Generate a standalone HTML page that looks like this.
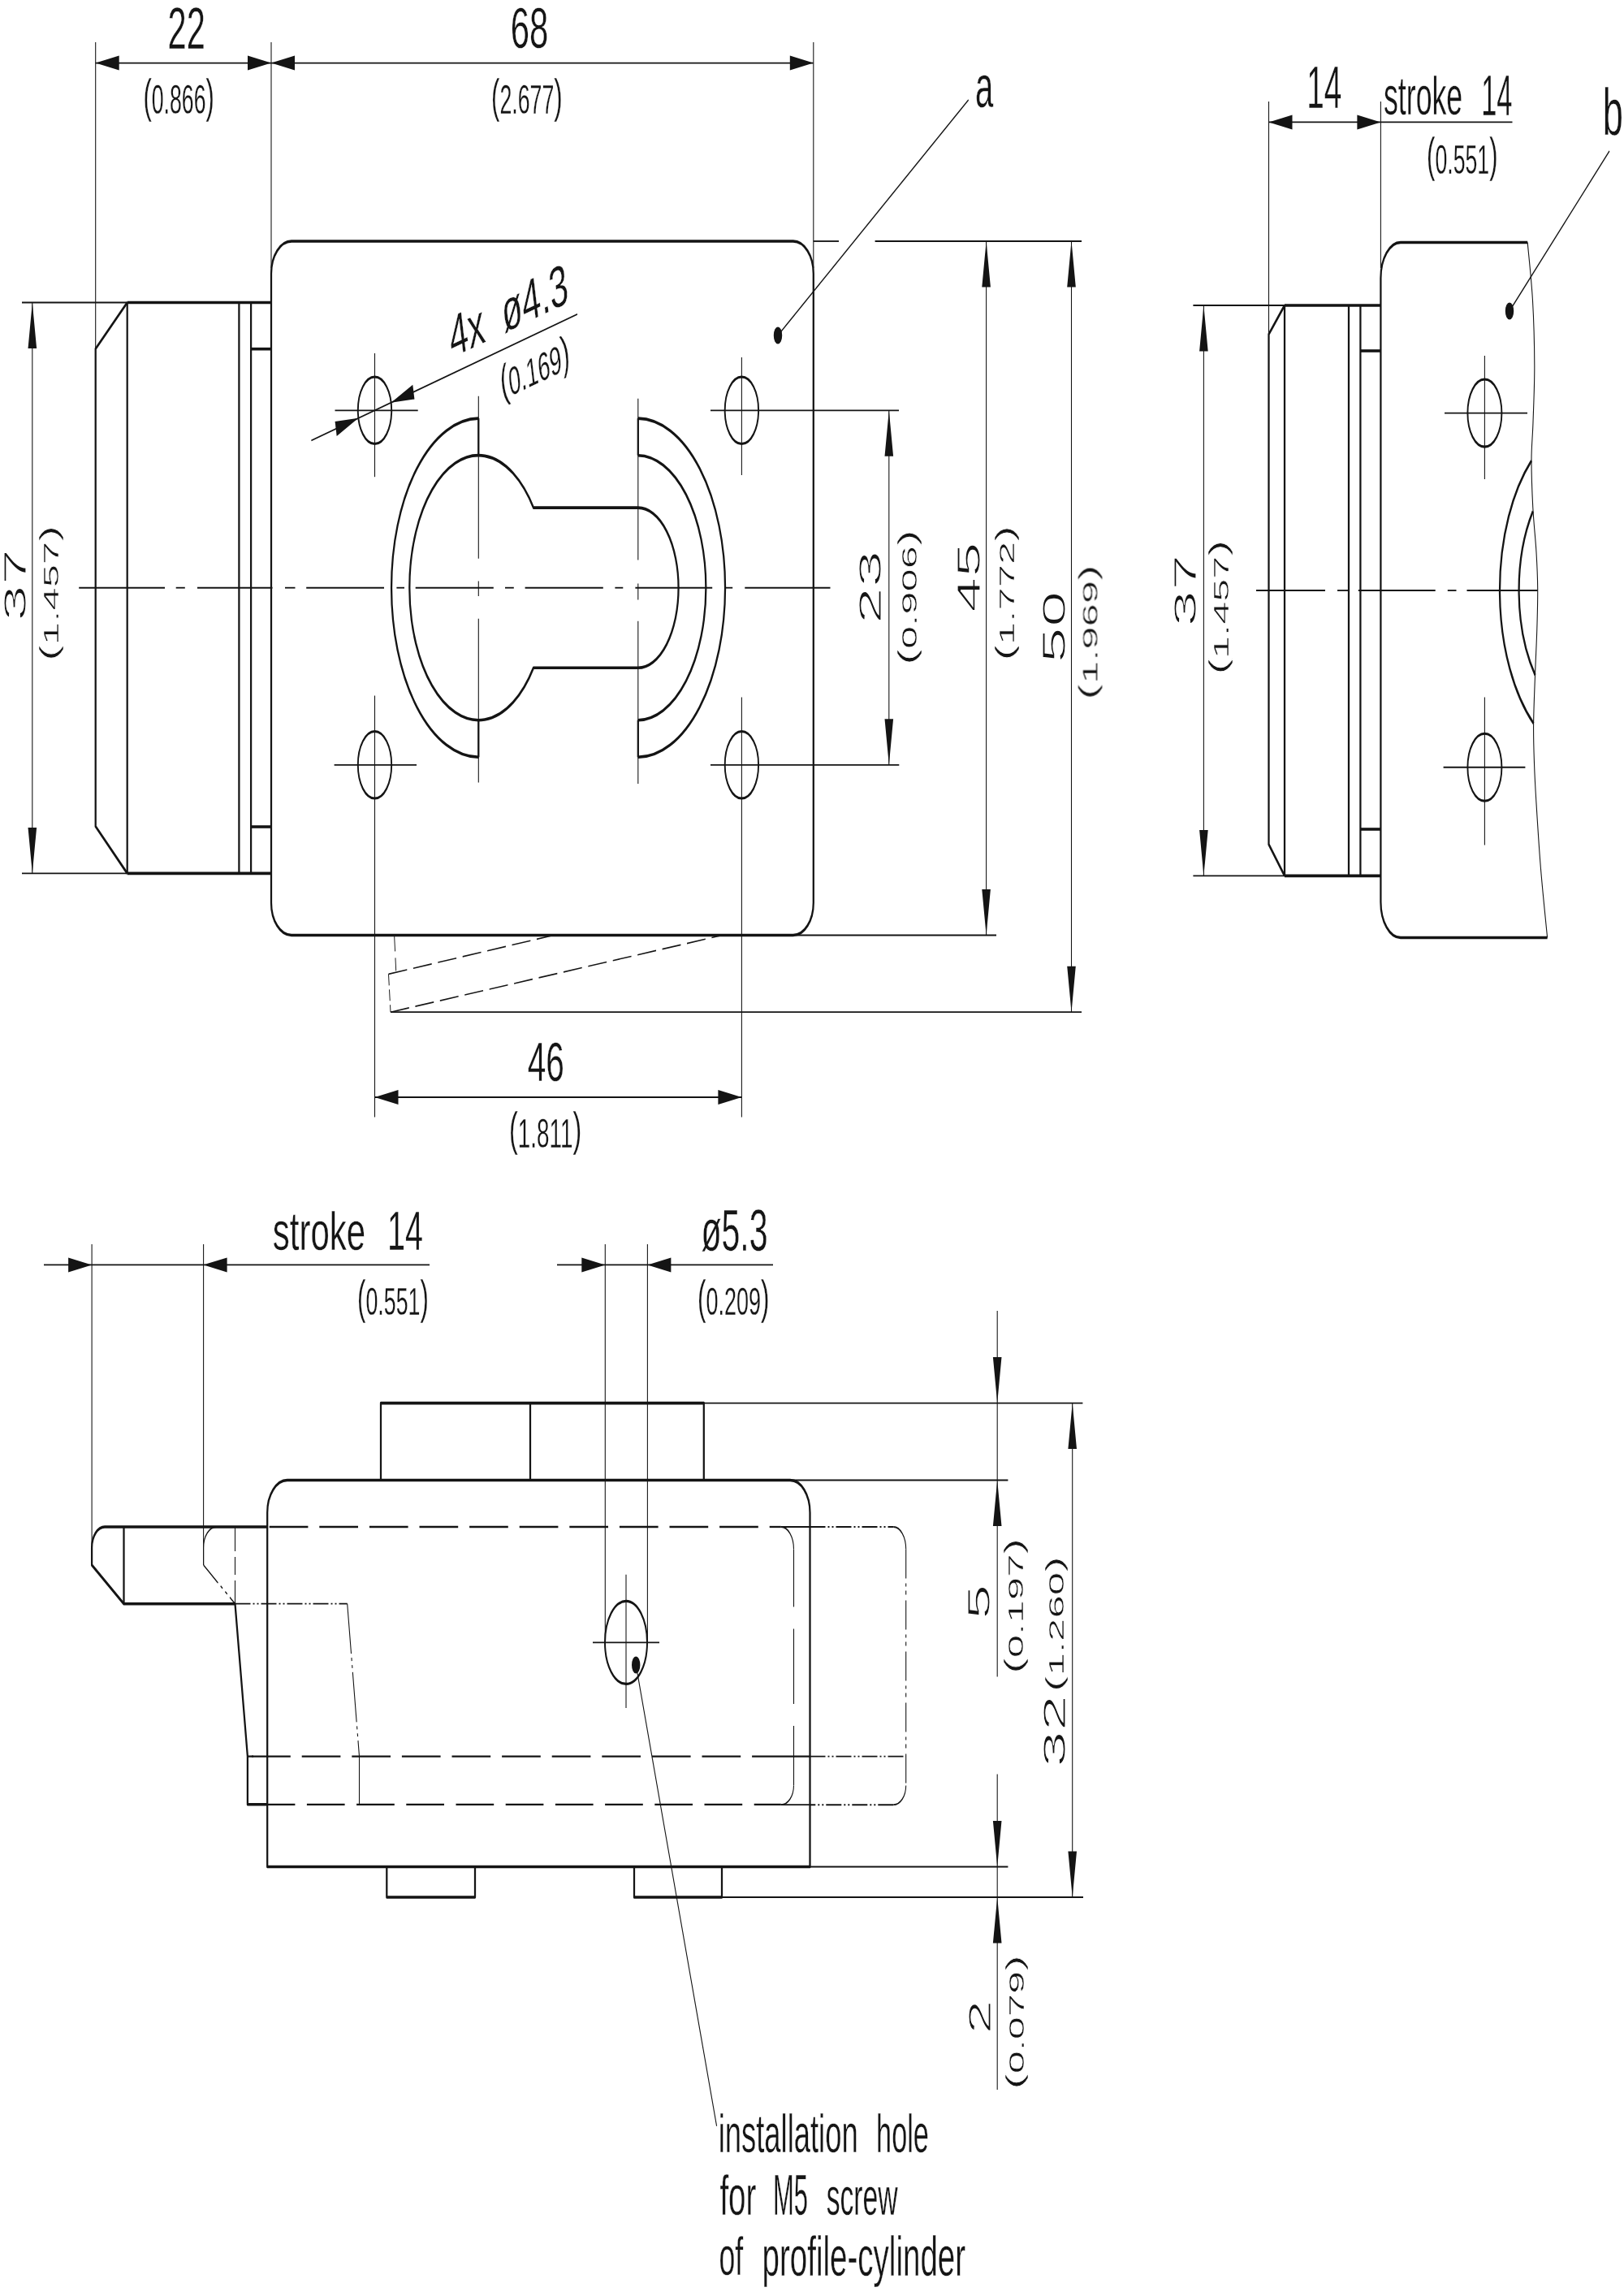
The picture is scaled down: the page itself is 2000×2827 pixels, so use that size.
<!DOCTYPE html>
<html lang="en"><head><meta charset="utf-8"><title>Dimension drawing</title>
<style>html,body{margin:0;padding:0;background:#fff}svg{display:block}text{font-family:"Liberation Sans", sans-serif;font-size:100px;fill:#141414}</style></head>
<body><svg width="2000" height="2827" viewBox="0 0 2000 2827">
<rect width="2000" height="2827" fill="#fff"/>
<g transform="scale(1 1.7)" fill="none" stroke="#141414" stroke-width="1.08">
<path d="M485.6 677.35L487.7 703.18" stroke-width="0.95" stroke-dasharray="11.76 4.71"/>
<path d="M478.5 705.53L681.7 677.35" stroke-width="0.95" stroke-dasharray="23 7.7"/>
<path d="M478.5 705.53L481 733.06" stroke-width="0.95" stroke-dasharray="8.24 2.94"/>
<path d="M481 733.06L889.5 677.35" stroke-width="0.95" stroke-dasharray="23 7.7"/>
<path d="M97.2 425.71L203 425.71"/>
<path d="M216.7 425.71L227.8 425.71"/>
<path d="M243 425.71L335.5 425.71"/>
<path d="M351 425.71L363.5 425.71"/>
<path d="M377.2 425.71L473 425.71"/>
<path d="M488.4 425.71L498 425.71"/>
<path d="M511.7 425.71L607.8 425.71"/>
<path d="M622 425.71L632.8 425.71"/>
<path d="M646.6 425.71L742.8 425.71"/>
<path d="M757.4 425.71L767.3 425.71"/>
<path d="M782.4 425.71L877.2 425.71"/>
<path d="M893.6 425.71L902.2 425.71"/>
<path d="M917.3 425.71L1022.5 425.71"/>
<path d="M589.3 286.88L589.3 404.59"/>
<path d="M589.3 420.88L589.3 431.76"/>
<path d="M589.3 448.06L589.3 566.71"/>
<path d="M785.8 288.71L785.8 405.53"/>
<path d="M785.8 422.71L785.8 434.47"/>
<path d="M785.8 449.88L785.8 567.65"/>
<path d="M412.5 297.24L514.7 297.24"/>
<path d="M461.5 255.88L461.5 345.41"/>
<path d="M875 297.24L1107 297.24"/>
<path d="M913.4 258.82L913.4 344.12"/>
<path d="M411.6 554L513 554"/>
<path d="M461.5 503.82L461.5 809.06"/>
<path d="M875 554L1107.3 554"/>
<path d="M913.4 505.06L913.4 809.06"/>
<path d="M117.7 30.59L117.7 252.65"/>
<path d="M334 30.59L334 194.12"/>
<path d="M1001.8 30.59L1001.8 194.12"/>
<path d="M117.7 45.65L1001.8 45.65"/>
<path d="M27 219.12L156.7 219.12"/>
<path d="M27 632.59L156.7 632.59"/>
<path d="M39.8 219.12L39.8 632.59"/>
<path d="M1001.8 174.71L1033 174.71"/>
<path d="M1077.6 174.71L1332 174.71"/>
<path d="M976.8 677.35L1227 677.35"/>
<path d="M481 733.06L1332 733.06"/>
<path d="M1214.6 174.71L1214.6 677.35"/>
<path d="M1319.5 174.71L1319.5 733.06"/>
<path d="M1094.8 297.24L1094.8 554"/>
<path d="M461.5 794.71L913.4 794.71"/>
<path d="M958 242.94L1192.7 72.35"/>
<path d="M383.4 319.03L711 227.61"/>
<path d="M1881.2 175.59C1882.25 182.6 1886.07 202.79 1887.5 217.65C1888.93 232.5 1889.72 250 1889.8 264.71C1889.88 279.41 1888.63 294.51 1888 305.88C1887.37 317.25 1886.03 322.65 1886 332.94C1885.97 343.24 1886.8 356.47 1887.8 367.65C1888.8 378.82 1891.02 390.2 1892 400C1892.98 409.8 1893.57 417.16 1893.7 426.47C1893.83 435.78 1893.32 445.69 1892.8 455.88C1892.28 466.08 1891.3 476.18 1890.6 487.65C1889.9 499.12 1888.78 513.82 1888.6 524.71C1888.42 535.59 1888.97 543.73 1889.5 552.94C1890.03 562.16 1890.47 567.25 1891.8 580C1893.13 592.75 1895.2 612.89 1897.5 629.41C1899.8 645.93 1904.25 670.83 1905.6 679.12"/>
<path d="M1779 299.18L1881 299.18"/>
<path d="M1828.4 257.65L1828.4 347.06"/>
<path d="M1777.6 555.76L1878.4 555.76"/>
<path d="M1828.4 505.06L1828.4 612.06"/>
<path d="M1547 427.65L1632 427.65"/>
<path d="M1647 427.65L1660 427.65"/>
<path d="M1672.8 427.65L1767.7 427.65"/>
<path d="M1782.8 427.65L1793.5 427.65"/>
<path d="M1806.5 427.65L1893.7 427.65"/>
<path d="M1562.5 73.53L1562.5 242.12"/>
<path d="M1700.4 73.53L1700.4 194.12"/>
<path d="M1562.5 88.47L1862.5 88.47"/>
<path d="M1469.4 221.18L1582 221.18"/>
<path d="M1469.4 634.35L1582 634.35"/>
<path d="M1482.4 221.18L1482.4 634.35"/>
<path d="M1859 225.29L1982 109.41"/>
<path d="M250.6 1133.53L250.6 1120.88A15.9 15 0 0 1 266.5 1105.88"/>
<path d="M250.6 1133.53L289.5 1161.59" stroke-dasharray="22 4 3 4 3 4"/>
<path d="M289.5 1105.88L289.5 1161.59" stroke-dasharray="17.65 4.12 12.94 4.12"/>
<path d="M289.5 1161.59L427.7 1161.59" stroke-dasharray="19 3 2 3 2 3"/>
<path d="M427.7 1161.59L442.5 1272.12" stroke-dasharray="36.47 2.94 2.35 2.94 2.35 2.94"/>
<path d="M442.5 1272.12L442.5 1306.94"/>
<path d="M331.7 1105.88L934 1105.88" stroke-width="1.35" stroke-dasharray="47.7 13.9"/>
<path d="M947.7 1105.88L961.8 1105.88" stroke-width="1.35"/>
<path d="M310.1 1272.12L912.3 1272.12" stroke-width="1.35" stroke-dasharray="47.7 13.9"/>
<path d="M304.9 1272.12L312 1272.12" stroke-width="1.35"/>
<path d="M926.1 1272.12L997.5 1272.12" stroke-width="1.35"/>
<path d="M316.7 1306.94L915 1306.94" stroke-width="1.35" stroke-dasharray="46.7 14.5"/>
<path d="M928.7 1306.94L961.8 1306.94" stroke-width="1.35"/>
<path d="M961.8 1105.88A15.7 16.18 0 0 1 977.5 1122.06"/>
<path d="M977.5 1122.06L977.5 1293.18" stroke-dasharray="41.76 15.88 54.35 15.88 43.53 15.88"/>
<path d="M977.5 1293.18A15.7 14.12 0 0 1 961.8 1307.18"/>
<path d="M961.8 1105.88L997.5 1105.88"/>
<path d="M961.8 1307.18L997.5 1307.18"/>
<path d="M997.5 1105.88L1100.3 1105.88" stroke-width="1.15" stroke-dasharray="19 3 2 3 2 3"/>
<path d="M1100.3 1105.88A15.4 16.18 0 0 1 1115.7 1122.06"/>
<path d="M1115.7 1122.06L1115.7 1293.18" stroke-dasharray="21.18 3.53 2.35 2.94 2.94 4.12"/>
<path d="M1115.7 1293.18A15.4 14.12 0 0 1 1100.3 1307.18"/>
<path d="M1100.3 1307.18L997.5 1307.18" stroke-width="1.15" stroke-dasharray="19 3 2 3 2 3"/>
<path d="M997.5 1272.12L1115.7 1272.12" stroke-width="1.15" stroke-dasharray="19 3 2 3 2 3"/>
<path d="M730 1189.65L812 1189.65"/>
<path d="M771 1140.47L771 1237.06"/>
<path d="M783.2 1205.88L882.6 1539.82"/>
<path d="M113.1 901.18L113.1 1120.88"/>
<path d="M250.6 901.18L250.6 1133.53"/>
<path d="M54 916.12L529 916.12"/>
<path d="M745.3 901.18L745.3 1189.65"/>
<path d="M797.4 901.18L797.4 1189.65"/>
<path d="M686 916.12L952 916.12"/>
<path d="M866.8 1016.24L1333.4 1016.24"/>
<path d="M973 1072.06L1241.4 1072.06"/>
<path d="M997.5 1352.06L1241.4 1352.06"/>
<path d="M889 1374.12L1334 1374.12"/>
<path d="M1228.2 949.41L1228.2 1214.41"/>
<path d="M1228.2 1285L1228.2 1513.53"/>
<path d="M1320.7 1016.24L1320.7 1374.12"/>
</g>
<g transform="scale(1 1.6)" fill="none" stroke="#141414" stroke-width="2.25" stroke-linejoin="round">
<path d="M359 185.62L976.8 185.62A25 25 0 0 1 1001.8 210.62L1001.8 694.69A25 25 0 0 1 976.8 719.69L359 719.69A25 25 0 0 1 334 694.69L334 210.62A25 25 0 0 1 359 185.62Z"/>
<path d="M156.7 232.81L334 232.81"/>
<path d="M156.7 672.12L334 672.12"/>
<path d="M156.7 232.81L117.7 268.44L117.7 635.94L156.7 672.12"/>
<path d="M156.7 232.81L156.7 672.12"/>
<path d="M294.4 232.81L294.4 672.12"/>
<path d="M309.1 232.81L309.1 672.12"/>
<path d="M309.1 268.56L334 268.56"/>
<path d="M309.1 636.25L334 636.25"/>
<path d="M440.8 315.81A20.7 25.75 0 1 1 482.2 315.81A20.7 25.75 0 1 1 440.8 315.81Z" stroke-width="1.9"/>
<path d="M892.7 315.81A20.7 25.75 0 1 1 934.1 315.81A20.7 25.75 0 1 1 892.7 315.81Z" stroke-width="1.9"/>
<path d="M440.8 588.62A20.7 25.75 0 1 1 482.2 588.62A20.7 25.75 0 1 1 440.8 588.62Z" stroke-width="1.9"/>
<path d="M892.7 588.62A20.7 25.75 0 1 1 934.1 588.62A20.7 25.75 0 1 1 892.7 588.62Z" stroke-width="1.9"/>
<path d="M589.3 321.94A108.2 130.38 0 0 0 589.3 582.69"/>
<path d="M589.3 321.94L589.3 350.44"/>
<path d="M589.3 554.19L589.3 582.69"/>
<path d="M657 390.71A85 101.88 0 1 0 657 513.91L785.8 513.91A49.8 61.6 0 0 0 785.8 390.71Z"/>
<path d="M785.8 321.94A108.2 130.38 0 0 1 785.8 582.69"/>
<path d="M785.8 350.44A84.4 101.88 0 0 1 785.8 554.19"/>
<path d="M785.8 321.94L785.8 350.44"/>
<path d="M785.8 554.19L785.8 582.69"/>
<path d="M1881.2 186.56L1724.9 186.56A24.5 27.5 0 0 0 1700.4 214.06L1700.4 694.06A24.5 27.5 0 0 0 1724.9 721.56L1905.6 721.56"/>
<path d="M1582 235L1700.4 235"/>
<path d="M1582 674L1700.4 674"/>
<path d="M1582 235L1562.5 257.25L1562.5 649.81L1582 674"/>
<path d="M1582 235L1582 674"/>
<path d="M1661 235L1661 674"/>
<path d="M1675.4 235L1675.4 674"/>
<path d="M1675.4 270L1700.4 270"/>
<path d="M1675.4 638.12L1700.4 638.12"/>
<path d="M1807.4 317.88A21 25.94 0 1 1 1849.4 317.88A21 25.94 0 1 1 1807.4 317.88Z" stroke-width="1.9"/>
<path d="M1807.4 590.5A21 25.94 0 1 1 1849.4 590.5A21 25.94 0 1 1 1807.4 590.5Z" stroke-width="1.9"/>
<path d="M1886 354.53A109 130.25 0 0 0 1888.6 556.74"/>
<path d="M1887.8 393.44A85.4 101.25 0 0 0 1890.6 519.49"/>
<path d="M329.2 1436.56L329.2 1164.06A24.5 25 0 0 1 353.7 1139.06L973 1139.06A24.5 25 0 0 1 997.5 1164.06L997.5 1436.56Z"/>
<path d="M469 1139.06L469 1079.75L866.8 1079.75L866.8 1139.06"/>
<path d="M653 1079.75L653 1139.06"/>
<path d="M476.3 1436.56L476.3 1460L585 1460L585 1436.56"/>
<path d="M781 1436.56L781 1460L889 1460L889 1436.56"/>
<path d="M329.2 1175L129 1175A15.9 15.94 0 0 0 113.1 1190.94L113.1 1204.38L152.5 1234.19L289.5 1234.19L304.9 1351.62L304.9 1388.62L329.2 1388.62"/>
<path d="M152.5 1175L152.5 1234.19"/>
<path d="M745 1264A26 31.88 0 1 1 797 1264A26 31.88 0 1 1 745 1264Z" stroke-width="2"/>
</g>
<g fill="#141414">
<polygon points="117.7,77.6 146.7,68.6 146.7,86.6"/>
<polygon points="334,77.6 305,68.6 305,86.6"/>
<polygon points="334,77.6 363,68.6 363,86.6"/>
<polygon points="1001.8,77.6 972.8,68.6 972.8,86.6"/>
<polygon points="39.8,372.5 34.5,429 45.1,429"/>
<polygon points="39.8,1075.4 34.5,1018.9 45.1,1018.9"/>
<polygon points="1214.6,297 1209.3,353.5 1219.9,353.5"/>
<polygon points="1214.6,1151.5 1209.3,1095 1219.9,1095"/>
<polygon points="1319.5,297 1314.2,353.5 1324.8,353.5"/>
<polygon points="1319.5,1246.2 1314.2,1189.7 1324.8,1189.7"/>
<polygon points="1094.8,505.3 1089.5,561.8 1100.1,561.8"/>
<polygon points="1094.8,941.8 1089.5,885.3 1100.1,885.3"/>
<polygon points="461.5,1351 490.5,1342 490.5,1360"/>
<polygon points="913.4,1351 884.4,1342 884.4,1360"/>
<ellipse cx="958" cy="413" rx="5.2" ry="10.5"/>
<polygon points="481.64,495.75 508.3,473.64 510.43,491.54"/>
<polygon points="441.36,514.85 414.7,536.96 412.57,519.06"/>
<polygon points="1562.5,150.4 1591.5,141.4 1591.5,159.4"/>
<polygon points="1700.4,150.4 1671.4,141.4 1671.4,159.4"/>
<polygon points="1482.4,376 1477.1,432.5 1487.7,432.5"/>
<polygon points="1482.4,1078.4 1477.1,1021.9 1487.7,1021.9"/>
<ellipse cx="1859" cy="383" rx="5.2" ry="10.5"/>
<ellipse cx="783.2" cy="2050" rx="5.2" ry="10.5"/>
<polygon points="113.1,1557.4 84.1,1548.4 84.1,1566.4"/>
<polygon points="250.6,1557.4 279.6,1548.4 279.6,1566.4"/>
<polygon points="745.3,1557.4 716.3,1548.4 716.3,1566.4"/>
<polygon points="797.4,1557.4 826.4,1548.4 826.4,1566.4"/>
<polygon points="1228.2,1727.6 1222.9,1671.1 1233.5,1671.1"/>
<polygon points="1228.2,1822.5 1222.9,1879 1233.5,1879"/>
<polygon points="1228.2,2298.5 1222.9,2242 1233.5,2242"/>
<polygon points="1228.2,2336 1222.9,2392.5 1233.5,2392.5"/>
<polygon points="1320.7,1727.6 1315.4,1784.1 1326,1784.1"/>
<polygon points="1320.7,2336 1315.4,2279.5 1326,2279.5"/>
</g>
<g opacity="0.995">
<text transform="matrix(0.4158 0.0000 0.0000 0.7186 206.6208 60.0000)" stroke="#fff" stroke-width="0.6">22</text>
<text transform="matrix(0.2667 0.0000 0.0000 0.4908 176.4667 140.2743)" stroke="#fff" stroke-width="0.6"><tspan font-size="116" dy="-5">(</tspan><tspan dy="5">0.866</tspan><tspan font-size="116" dy="-5">)</tspan></text>
<text transform="matrix(0.4190 0.0000 0.0000 0.7085 628.6860 59.2915)" stroke="#fff" stroke-width="0.6">68</text>
<text transform="matrix(0.2676 0.0000 0.0000 0.4908 605.0590 140.2743)" stroke="#fff" stroke-width="0.6"><tspan font-size="116" dy="-5">(</tspan><tspan dy="5">2.677</tspan><tspan font-size="116" dy="-5">)</tspan></text>
<text transform="matrix(0.4000 0.0000 0.0000 0.7364 1201.0000 132.4636)" stroke="#fff" stroke-width="0.6">a</text>
<text transform="matrix(0.3880 0.0000 0.0000 0.7333 1609.1960 133.4000)" stroke="#fff" stroke-width="0.6">14</text>
<text transform="matrix(0.3570 0.0000 0.0000 0.6689 1703.9719 141.1311)" stroke="#fff" stroke-width="0.6">stroke</text>
<text transform="matrix(0.3440 0.0000 0.0000 0.6957 1824.2480 141.5000)" stroke="#fff" stroke-width="0.6">14</text>
<text transform="matrix(0.2670 0.0000 0.0000 0.5028 1757.0641 213.8477)" stroke="#fff" stroke-width="0.6"><tspan font-size="116" dy="-5">(</tspan><tspan dy="5">0.551</tspan><tspan font-size="116" dy="-5">)</tspan></text>
<text transform="matrix(0.4523 0.0000 0.0000 0.8151 1973.8341 166.0000)" stroke="#fff" stroke-width="0.6">b</text>
<text transform="matrix(0.4058 0.0000 0.0000 0.6873 649.7825 1331.3127)" stroke="#fff" stroke-width="0.6">46</text>
<text transform="matrix(0.2784 0.0000 0.0000 0.4954 627.0731 1412.5872)" stroke="#fff" stroke-width="0.6"><tspan font-size="116" dy="-5">(</tspan><tspan dy="5">1.811</tspan><tspan font-size="116" dy="-5">)</tspan></text>
<text transform="matrix(0.4194 0.0000 0.0000 0.6635 335.8224 1538.9365)" stroke="#fff" stroke-width="0.6">stroke</text>
<text transform="matrix(0.3960 0.0000 0.0000 0.6884 477.0320 1539.2000)" stroke="#fff" stroke-width="0.6">14</text>
<text transform="matrix(0.2679 0.0000 0.0000 0.4899 440.0564 1619.4917)" stroke="#fff" stroke-width="0.6"><tspan font-size="116" dy="-5">(</tspan><tspan dy="5">0.551</tspan><tspan font-size="116" dy="-5">)</tspan></text>
<text transform="matrix(0.4104 0.0000 0.0000 0.7292 863.4688 1539.5417)" stroke="#fff" stroke-width="0.6">ø5.3</text>
<text transform="matrix(0.2696 0.0000 0.0000 0.4899 859.0436 1619.4917)" stroke="#fff" stroke-width="0.6"><tspan font-size="116" dy="-5">(</tspan><tspan dy="5">0.209</tspan><tspan font-size="116" dy="-5">)</tspan></text>
<text transform="matrix(0.3641 0.0000 0.0000 0.6757 884.6516 2650.3243)" stroke="#fff" stroke-width="0.6">installation</text>
<text transform="matrix(0.3429 0.0000 0.0000 0.6757 1079.0994 2650.3243)" stroke="#fff" stroke-width="0.6">hole</text>
<text transform="matrix(0.3850 0.0000 0.0000 0.6811 886.4301 2727.1189)" stroke="#fff" stroke-width="0.6">for</text>
<text transform="matrix(0.3096 0.0000 0.0000 0.7029 952.0136 2727.0971)" stroke="#fff" stroke-width="0.6">M5</text>
<text transform="matrix(0.3370 0.0000 0.0000 0.6414 1017.6521 2727.1586)" stroke="#fff" stroke-width="0.6">screw</text>
<text transform="matrix(0.3564 0.0000 0.0000 0.6595 885.4179 2800.8405)" stroke="#fff" stroke-width="0.6">of</text>
<text transform="matrix(0.3855 0.0000 0.0000 0.6798 938.5016 2802.3245)" stroke="#fff" stroke-width="0.6">profile-cylinder</text>
<text transform="matrix(0.0000 -0.7990 0.3940 0.0000 31.5940 764.7939)" stroke="#fff" stroke-width="2.8">37</text>
<text transform="matrix(0.0000 -0.5100 0.2645 0.0000 71.9393 813.8797)" stroke="#fff" stroke-width="1.8"><tspan font-size="116" dy="-5">(</tspan><tspan dy="5">1.457</tspan><tspan font-size="116" dy="-5">)</tspan></text>
<text transform="matrix(0.0000 -0.8141 0.3836 0.0000 1085.3836 768.2848)" stroke="#fff" stroke-width="2.8">23</text>
<text transform="matrix(0.0000 -0.5084 0.2636 0.0000 1129.4561 818.7669)" stroke="#fff" stroke-width="1.8"><tspan font-size="116" dy="-5">(</tspan><tspan dy="5">0.906</tspan><tspan font-size="116" dy="-5">)</tspan></text>
<text transform="matrix(0.0000 -0.7782 0.4075 0.0000 1206.9075 754.0129)" stroke="#fff" stroke-width="2.8">45</text>
<text transform="matrix(0.0000 -0.5084 0.2645 0.0000 1248.8393 813.5669)" stroke="#fff" stroke-width="1.8"><tspan font-size="116" dy="-5">(</tspan><tspan dy="5">1.772</tspan><tspan font-size="116" dy="-5">)</tspan></text>
<text transform="matrix(0.0000 -0.7960 0.4045 0.0000 1311.5045 816.3760)" stroke="#fff" stroke-width="2.8">50</text>
<text transform="matrix(0.0000 -0.5080 0.2645 0.0000 1351.4393 861.6643)" stroke="#fff" stroke-width="1.8"><tspan font-size="116" dy="-5">(</tspan><tspan dy="5">1.969</tspan><tspan font-size="116" dy="-5">)</tspan></text>
<text transform="matrix(0.0000 -0.7990 0.3955 0.0000 1473.3955 771.3939)" stroke="#fff" stroke-width="2.8">37</text>
<text transform="matrix(0.0000 -0.5055 0.2654 0.0000 1512.6224 830.5437)" stroke="#fff" stroke-width="1.8"><tspan font-size="116" dy="-5">(</tspan><tspan dy="5">1.457</tspan><tspan font-size="116" dy="-5">)</tspan></text>
<text transform="matrix(0.0000 -0.7773 0.3909 0.0000 1219.1909 1994.0636)" stroke="#fff" stroke-width="2.8">5</text>
<text transform="matrix(0.0000 -0.5113 0.2664 0.0000 1259.9056 2061.0900)" stroke="#fff" stroke-width="1.8"><tspan font-size="116" dy="-5">(</tspan><tspan dy="5">0.197</tspan><tspan font-size="116" dy="-5">)</tspan></text>
<text transform="matrix(0.0000 -0.8020 0.3955 0.0000 1312.4955 2176.0121)" stroke="#fff" stroke-width="2.8">32</text>
<text transform="matrix(0.0000 -0.5106 0.2607 0.0000 1310.2065 2083.2849)" stroke="#fff" stroke-width="1.8"><tspan font-size="116" dy="-5">(</tspan><tspan dy="5">1.260</tspan><tspan font-size="116" dy="-5">)</tspan></text>
<text transform="matrix(0.0000 -0.7558 0.3939 0.0000 1219.7879 2504.5349)" stroke="#fff" stroke-width="2.8">2</text>
<text transform="matrix(0.0000 -0.5058 0.2495 0.0000 1261.0084 2572.8463)" stroke="#fff" stroke-width="1.8"><tspan font-size="116" dy="-5">(</tspan><tspan dy="5">0.079</tspan><tspan font-size="116" dy="-5">)</tspan></text>
<text transform="matrix(0.4048 -0.1920 0.0831 0.7006 556.2857 440.8337)" stroke="#fff" stroke-width="0.6">4x</text>
<text transform="matrix(0.4048 -0.1920 0.0831 0.7006 620.7857 410.2349)" stroke="#fff" stroke-width="0.6">ø4.3</text>
<text transform="matrix(0.2588 -0.1228 0.0565 0.4768 618.4295 492.8527)" stroke="#fff" stroke-width="0.6"><tspan font-size="116" dy="-5">(</tspan><tspan dy="5">0.169</tspan><tspan font-size="116" dy="-5">)</tspan></text>
</g>
</svg></body></html>
